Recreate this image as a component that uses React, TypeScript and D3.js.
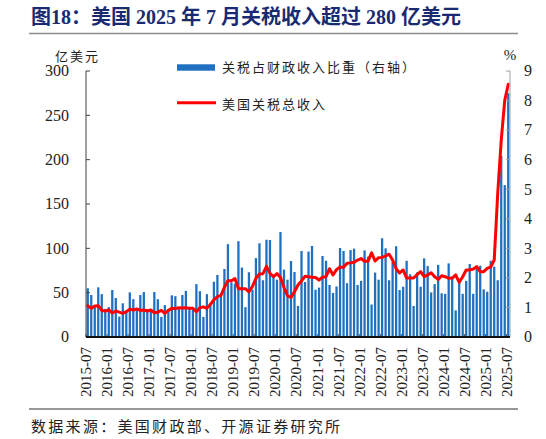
import React from "react";
import * as d3 from "d3";

// Categories: monthly, 2015-07 .. 2025-07
const months: string[] = d3
  .timeMonth.range(new Date(2015, 6, 1), new Date(2025, 7, 1))
  .map((d) => d3.timeFormat("%Y-%m")(d));

const tickLabels = [
  "2015-07", "2016-01", "2016-07", "2017-01", "2017-07", "2018-01", "2018-07",
  "2019-01", "2019-07", "2020-01", "2020-07", "2021-01", "2021-07", "2022-01",
  "2022-07", "2023-01", "2023-07", "2024-01", "2024-07", "2025-01", "2025-07",
];

// 关税占财政收入比重 (%), right axis
const shareValues = [
  1.65, 1.42, 1.02, 1.68, 1.45, 0.95, 1.01, 1.59, 1.32, 0.69, 1.14, 0.88,
  1.51, 1.28, 0.92, 1.42, 1.52, 0.95, 0.9, 1.52, 1.28, 0.68, 1.08, 0.95,
  1.41, 1.38, 1.0, 1.42, 1.56, 1.02, 0.95, 1.79, 1.55, 0.68, 1.45, 1.15,
  1.87, 2.1, 1.42, 2.3, 3.14, 1.85, 1.8, 3.24, 2.35, 1.01, 2.19, 1.6,
  2.67, 3.17, 1.92, 3.29, 3.28, 2.05, 1.94, 3.55, 2.28, 1.94, 2.57, 2.2,
  1.05, 2.91, 1.86, 2.89, 3.08, 1.6, 1.67, 2.74, 2.58, 1.76, 1.49, 1.71,
  3.01, 2.91, 1.82, 2.94, 2.99, 1.76, 1.9, 2.93, 2.72, 1.1, 2.18, 1.94,
  3.34, 3.0, 1.92, 2.55, 3.07, 1.59, 1.7, 2.58, 2.12, 1.05, 2.18, 1.7,
  2.66, 2.4, 1.51, 1.79, 2.44, 1.48, 1.46, 2.49, 2.05, 0.9, 1.95, 1.46,
  1.9, 2.47, 1.46, 2.41, 2.41, 1.61, 1.53, 2.58, 2.38, 1.92, 6.13, 5.14,
  8.25,
];

// 美国关税总收入 (亿美元), left axis
const revenueValues = [
  35.3, 32.3, 35, 35.3, 30, 29.3, 30.5, 27, 29.3, 28, 26.7, 28.6,
  31.3, 30.5, 31.6, 30, 30.5, 29.3, 30.5, 27.4, 28, 30, 26.7, 30,
  32.3, 32, 33, 32.7, 33, 32.3, 32.3, 28.6, 33, 34, 32.3, 36.8,
  42, 45.5, 47, 56, 63.5, 63.5, 66, 54.5, 54.5, 54.5, 51, 57,
  66.2, 71, 71.4, 79.6, 71.8, 68, 71.5, 67, 55.8, 46.6, 44.5, 51.1,
  58.6, 63.2, 68.5, 68, 67.5, 67, 64.3, 67.5, 68, 77, 70, 76,
  79, 78.5, 83.1, 83.6, 84.3, 86.8, 88.5, 85.5, 85.5, 95, 85.7, 89.5,
  89.8, 91.4, 93.4, 86.8, 77, 72.2, 75.6, 66.5, 66.5, 66.5, 70.5, 73.7,
  68, 70, 72.5, 68, 65, 69, 68, 66.2, 66.5, 70, 61.7, 68,
  75.6, 75.6, 76.7, 79.3, 73.7, 73.7, 77.4, 79, 86.8, 162, 222, 267,
  285,
];

const leftTicks = [0, 50, 100, 150, 200, 250, 300];
const rightTicks = [0, 1, 2, 3, 4, 5, 6, 7, 8, 9];

const W = 546;
const H = 439;
const serif = "'Liberation Serif', 'Times New Roman', serif";
const cjk = "'Noto Sans CJK SC', 'Liberation Serif', sans-serif";
const titleFont = "'Liberation Serif', 'Noto Sans CJK SC', serif";

export default function App() {
  const left = 86;
  const right = 510;
  const top = 71;
  const bottom = 337;

  const x = d3.scaleBand<string>().domain(months).range([left, right]).paddingInner(0.35).paddingOuter(0.175);
  const yL = d3.scaleLinear().domain([0, 300]).range([bottom, top]);
  const yR = d3.scaleLinear().domain([0, 9]).range([bottom, top]);
  const half = (x.step() - x.bandwidth()) / 2;
  const boundary = (m: string) => (x(m) as number) - half;

  const line = d3
    .line<number>()
    .x((_, i) => (x(months[i]) as number) + x.bandwidth() / 2)
    .y((v) => yL(v))
    .curve(d3.curveLinear);

  return (
    <svg
      width={W}
      height={H}
      style={{ position: "absolute", left: 0, top: 0, background: "#fff" }}
    >
      <text
        x={31}
        y={24}
        fontFamily={titleFont}
        fontWeight="bold"
        fontSize={20}
        fill="#1a2a72"
      >
        图18：美国 2025 年 7 月关税收入超过 280 亿美元
      </text>
      <line x1={29} x2={518} y1={33.5} y2={33.5} stroke="#8c8c8c" strokeWidth={1.5} />

      {/* unit labels */}
      <text x={55} y={61} fontFamily={cjk} fontSize={13} letterSpacing={2} fill="#222">
        亿美元
      </text>
      <text x={510} y={60} fontFamily={serif} fontSize={15} textAnchor="middle" fill="#222">
        %
      </text>

      {/* bars */}
      {shareValues.map((v, i) => (
        <rect
          key={months[i]}
          x={x(months[i]) as number}
          y={yR(v)}
          width={x.bandwidth()}
          height={bottom - yR(v)}
          fill="#1f70c1"
        />
      ))}

      {/* x ticks */}
      {tickLabels.map((t) => (
        <line
          key={"t" + t}
          x1={boundary(t)}
          x2={boundary(t)}
          y1={bottom}
          y2={bottom - 3}
          stroke="#555"
          strokeWidth={1}
        />
      ))}

      {/* line */}
      <path
        d={line(revenueValues) || ""}
        fill="none"
        stroke="#ff0000"
        strokeWidth={3}
        strokeLinejoin="round"
        strokeLinecap="round"
      />

      {/* left axis */}
      <line x1={left} x2={left} y1={top} y2={bottom} stroke="#404040" strokeWidth={1} />
      {leftTicks.map((t) => (
        <g key={"l" + t}>
          <line x1={left} x2={left + 4} y1={yL(t)} y2={yL(t)} stroke="#404040" />
          <text
            x={69}
            y={yL(t)}
            dy="0.33em"
            textAnchor="end"
            fontFamily={serif}
            fontSize={16}
            fill="#222"
          >
            {t}
          </text>
        </g>
      ))}

      {/* right axis */}
      <line x1={right} x2={right} y1={top} y2={bottom} stroke="#a0a0a0" strokeWidth={1} />
      {rightTicks.map((t) => (
        <g key={"r" + t}>
          <line x1={right - 4} x2={right} y1={yR(t)} y2={yR(t)} stroke="#a0a0a0" />
          <text
            x={524}
            y={yR(t)}
            dy="0.33em"
            textAnchor="start"
            fontFamily={serif}
            fontSize={16}
            fill="#222"
          >
            {t}
          </text>
        </g>
      ))}

      {/* bottom axis */}
      <line x1={left} x2={right} y1={bottom} y2={bottom} stroke="#111" strokeWidth={1.8} />
      {tickLabels.map((t) => (
        <text
          key={"x" + t}
          transform={`translate(${boundary(t)},${347}) rotate(-90)`}
          dy="0.35em"
          textAnchor="end"
          fontFamily={serif}
          fontSize={15}
          fill="#222"
        >
          {t}
        </text>
      ))}

      {/* legend */}
      <rect x={177} y={64.3} width={38} height={6.4} fill="#1f70c1" />
      <text x={222} y={72} fontFamily={cjk} fontSize={13} letterSpacing={2} fill="#222">
        关税占财政收入比重（右轴）
      </text>
      <line x1={177} x2={216} y1={102.7} y2={102.7} stroke="#ff0000" strokeWidth={3} />
      <text x={222} y={108.5} fontFamily={cjk} fontSize={13} letterSpacing={2} fill="#222">
        美国关税总收入
      </text>

      {/* footer */}
      <line x1={29} x2={518} y1={409} y2={409} stroke="#333" strokeWidth={1.2} />
      <text x={31} y={432} fontFamily={cjk} fontSize={15} letterSpacing={2.3} fill="#222">
        数据来源：美国财政部、开源证券研究所
      </text>
    </svg>
  );
}
